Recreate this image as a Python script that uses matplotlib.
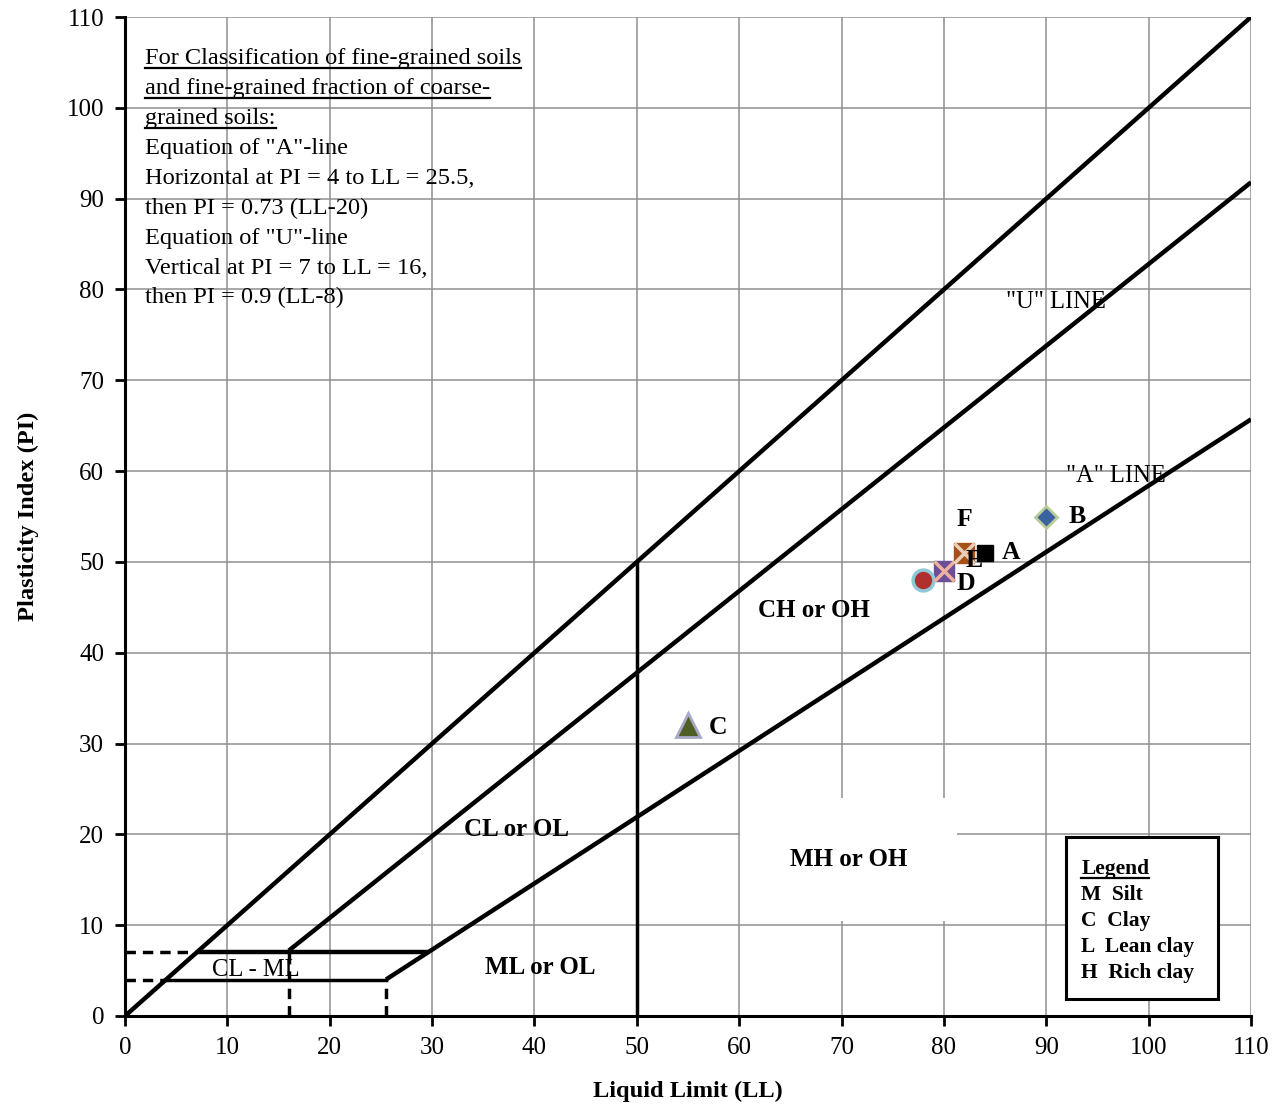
import matplotlib.pyplot as plt
from matplotlib.lines import Line2D

plt.rcParams['font.family'] = ['Liberation Serif', 'DejaVu Serif']

# boundary lines of the plasticity chart
ll_upper = [0, 110]
pi_upper = [0, 110]
ll_u = [16, 110]
pi_u = [0.9 * (x - 8) for x in ll_u]
ll_a = [25.5, 110]
pi_a = [0.73 * (x - 20) for x in ll_a]

# samples
samples = ['A', 'B', 'C', 'D', 'E', 'F']
sample_ll = [84, 90, 55, 80, 82, 78]
sample_pi = [51, 55, 32, 49, 51, 48]

notes = ['For Classification of fine-grained soils',
         'and fine-grained fraction of coarse-',
         'grained soils:',
         'Equation of "A"-line',
         'Horizontal at PI = 4 to LL = 25.5,',
         'then PI = 0.73 (LL-20)',
         'Equation of "U"-line',
         'Vertical at PI = 7 to LL = 16,',
         'then PI = 0.9 (LL-8)']

legend_lines = ['Legend', 'M  Silt', 'C  Clay', 'L  Lean clay', 'H  Rich clay']

fig = plt.figure(figsize=(12.81, 11.06), dpi=100)
ax = fig.add_axes([0.0976, 0.0814, 0.879, 0.9032])

ax.set_xlim(0, 110)
ax.set_ylim(0, 110)
ax.set_xticks(range(0, 111, 10))
ax.set_yticks(range(0, 111, 10))
ax.grid(True, color='#909090', lw=1.1)
ax.set_axisbelow(True)
for s in ['top', 'right']:
    ax.spines[s].set_visible(False)
for s in ['left', 'bottom']:
    ax.spines[s].set_linewidth(2.2)
ax.tick_params(direction='out', length=7, width=2, labelsize=18, pad=8)

lk = dict(color='black', lw=3.2, solid_capstyle='butt', zorder=3)
ax.plot(ll_upper, pi_upper, **lk)
ax.plot(ll_u, pi_u, **lk)
ax.plot(ll_a, pi_a, **lk)
ax.plot([7, 7 / 0.73 + 20], [7, 7], **lk)
ax.plot([4, 25.5], [4, 4], color='black', lw=2.5, zorder=3)
ax.plot([50, 50], [0, 50], color='black', lw=2.5, zorder=3)

dk = dict(color='black', lw=2.5, ls=(0, (3, 2)), zorder=3)
ax.plot([0, 7], [7, 7], **dk)
ax.plot([0, 4], [4, 4], **dk)
ax.plot([16, 16], [0, 7], **dk)
ax.plot([25.5, 25.5], [0, 4], **dk)

# sample markers
ax.plot(sample_ll[0], sample_pi[0], 's', ms=12, mfc='black', mec='black', zorder=5)
ax.plot(sample_ll[1], sample_pi[1], 'D', ms=11, mfc='#3a62a0', mec='#b8cc98', mew=2, zorder=5)
ax.plot(sample_ll[2], sample_pi[2], '^', ms=17, mfc='#4f5e22', mec='#a8a8c8', mew=2, zorder=5)
ax.plot(sample_ll[3], sample_pi[3], 's', ms=15, mfc='#6a4f98', mec='#6a4f98', zorder=5)
ax.plot(sample_ll[3], sample_pi[3], 'x', ms=14, mec='#f0b0a0', mew=2.5, zorder=6)
ax.plot(sample_ll[4], sample_pi[4], 's', ms=15, mfc='#a8501a', mec='#a8501a', zorder=5)
ax.plot(sample_ll[4], sample_pi[4], 'x', ms=14, mec='#e8d0b8', mew=2.5, zorder=6)
ax.plot(sample_ll[5], sample_pi[5], 'o', ms=15, mfc='#b03030', mec='#90c8d8', mew=2.5, zorder=5)

bold = dict(fontsize=18.5, fontweight='bold', ha='center', va='center', zorder=7)
ax.text(82, 54.7, 'F', **bold)
ax.text(86.6, 51, 'A', **bold)
ax.text(93, 55, 'B', **bold)
ax.text(57.9, 31.8, 'C', **bold)
ax.text(82.1, 47.6, 'D', **bold)
ax.text(83.0, 50.2, 'E', **bold)

zone = dict(fontsize=18, fontweight='bold', ha='center', va='center', zorder=7)
ax.text(67.3, 44.7, 'CH or OH', **zone)
ax.text(38.2, 20.5, 'CL or OL', **zone)
ax.text(70.7, 17.2, 'MH or OH', bbox=dict(fc='white', ec='none', pad=36), **zone)
ax.text(40.6, 5.3, 'ML or OL', **zone)
ax.text(12.8, 5.1, 'CL - ML', fontsize=17.7, ha='center', va='center', zorder=7)
ax.text(90.9, 78.6, '"U" LINE', fontsize=17.7, ha='center', va='center', zorder=7)
ax.text(96.8, 59.5, '"A" LINE', fontsize=17.7, ha='center', va='center', zorder=7)

ax.set_xlabel('Liquid Limit (LL)', fontsize=17.6, fontweight='bold', labelpad=16)
ax.set_ylabel('Plasticity Index (PI)', fontsize=17.6, fontweight='bold', labelpad=20)

# note block, first three lines underlined
note_texts = []
for i, line in enumerate(notes):
    t = ax.text(0.0178, 0.958 - i * 0.0299, line, transform=ax.transAxes,
                fontsize=17.6, ha='left', va='center', zorder=7)
    note_texts.append((t, i < 3))

# legend box
box_ax = fig.add_axes([1066 / 1281, 1 - 999 / 1106, 152 / 1281, 162 / 1106])
box_ax.set_xticks([])
box_ax.set_yticks([])
for s in box_ax.spines.values():
    s.set_linewidth(2.2)
leg_texts = []
for i, line in enumerate(legend_lines):
    t = box_ax.text(0.1, 0.80 - i * 0.16, line, transform=box_ax.transAxes,
                    fontsize=15.5, fontweight='bold', ha='left', va='center')
    leg_texts.append((t, i == 0))

fig.canvas.draw()
renderer = fig.canvas.get_renderer()
for t, under in note_texts + leg_texts:
    if not under:
        continue
    bb = t.get_window_extent(renderer)
    y = bb.y0 + 1
    fig.add_artist(Line2D([bb.x0 / fig.bbox.width, bb.x1 / fig.bbox.width],
                          [y / fig.bbox.height, y / fig.bbox.height],
                          transform=fig.transFigure, color='black', lw=1.6))

fig.savefig('out.png', dpi=100)
